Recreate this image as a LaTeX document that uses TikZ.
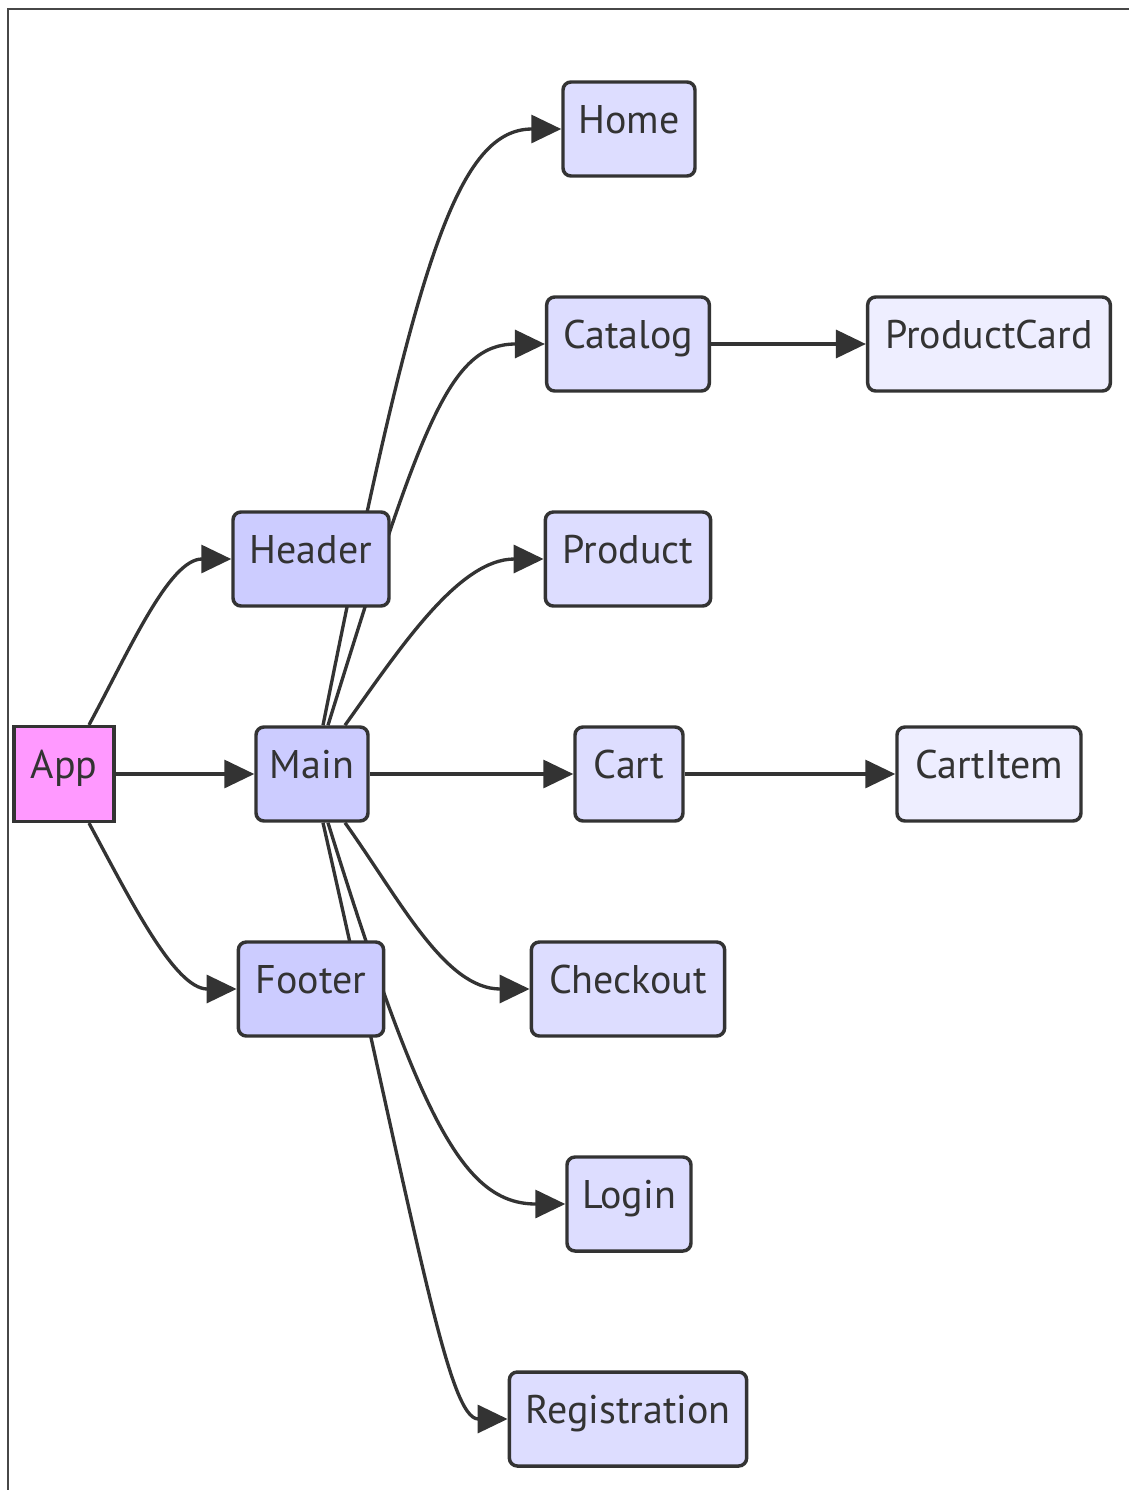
\documentclass[tikz,border=0pt]{standalone}
\usepackage{fontspec}
\setmainfont{PT Sans}
\usetikzlibrary{arrows.meta,calc}

\definecolor{ink}{HTML}{333333}
\definecolor{appfill}{HTML}{FF99FF}
\definecolor{midfill}{HTML}{CCCCFF}
\definecolor{pagefill}{HTML}{DDDDFF}
\definecolor{leaffill}{HTML}{EEEEFF}

\pgfdeclarelayer{edges}
\pgfsetlayers{edges,main}

\tikzset{
  box/.style={draw=ink, line width=2.6pt, rounded corners=6pt,
    minimum height=70.5pt, inner sep=0pt, text=ink,
    font=\fontsize{30pt}{34pt}\selectfont,
    text height=20pt, text depth=13pt},
  rootbox/.style={box, sharp corners, fill=appfill},
  midbox/.style={box, fill=midfill},
  pagebox/.style={box, fill=pagefill},
  leafbox/.style={box, fill=leaffill},
  link/.style={draw=ink, line width=2.5pt,
    -{Triangle[length=22.5pt,width=21pt]}},
}

\begin{document}
\begin{tikzpicture}[x=0.75pt, y=-0.75pt]
\useasboundingbox (0,0) rectangle (1129,1490);

% frame lines along the top and left edge
\draw[ink!90, line width=1.2pt] (1129,9) -- (8,9) -- (8,1490);

% nodes
\node[rootbox, minimum width=75pt, minimum height=71pt] (app) at (64,774) {App};
\node[midbox, minimum width=117pt] (header) at (311,559) {Header};
\node[midbox, minimum width=84pt]  (main)   at (312,774) {Main};
\node[midbox, minimum width=109pt] (footer) at (311,989) {Footer};

\node[pagebox, minimum width=99pt]  (home)     at (629,129)  {Home};
\node[pagebox, minimum width=122pt] (catalog)  at (628,344)  {Catalog};
\node[pagebox, minimum width=124pt] (product)  at (628,559)  {Product};
\node[pagebox, minimum width=81pt]  (cart)     at (629,774)  {Cart};
\node[pagebox, minimum width=145pt] (checkout) at (628,989)  {Checkout};
\node[pagebox, minimum width=93pt]  (login)    at (629,1204) {Login};
\node[pagebox, minimum width=178pt] (registration) at (628,1419) {Registration};

\node[leafbox, minimum width=182pt] (productcard) at (989,344) {ProductCard};
\node[leafbox, minimum width=138pt] (cartitem)    at (989,774) {CartItem};

% connectors, drawn underneath the boxes
\begin{pgfonlayer}{edges}
\draw[link] ($(app.north)+(25,0)$) .. controls +(41,-76) and +(-62,0) .. (header.west);
\draw[link] (app.east) -- (main.west);
\draw[link] ($(app.south)+(25,0)$) .. controls +(41,76) and +(-62,0) .. (footer.west);

\draw[link] ($(main.north)+(11,0)$) .. controls +(90,-450) and +(-107,0) .. (home.west);
\draw[link] ($(main.north)+(16,0)$) .. controls +(93,-300) and +(-96,0) .. (catalog.west);
\draw[link] ($(main.north)+(33,0)$) .. controls +(55,-77) and +(-85,0) .. (product.west);
\draw[link] (main.east) -- (cart.west);
\draw[link] ($(main.south)+(33,0)$) .. controls +(55,77) and +(-85,0) .. (checkout.west);
\draw[link] ($(main.south)+(16,0)$) .. controls +(93,300) and +(-101,0) .. (login.west);
\draw[link] ($(main.south)+(11,0)$) .. controls +(97,428) and +(-59,0) .. (registration.west);

\draw[link] (catalog.east) -- (productcard.west);
\draw[link] (cart.east) -- (cartitem.west);
\end{pgfonlayer}
\end{tikzpicture}
\end{document}
